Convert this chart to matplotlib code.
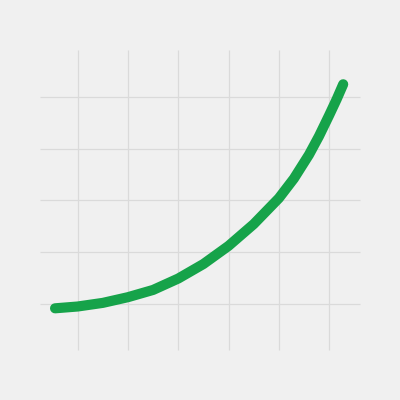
import matplotlib
matplotlib.use("Agg")
import matplotlib.pyplot as plt

# curve (grid units)
curve_x = [0.55, 1.0, 1.5, 2.0, 2.5, 3.0, 3.5, 4.0, 4.5, 5.0, 5.3, 5.6, 5.8, 6.0, 6.15, 6.28]
curve_y = [0.915, 0.95, 1.02, 1.13, 1.27, 1.49, 1.77, 2.12, 2.54, 3.04, 3.42, 3.88, 4.24, 4.64, 4.95, 5.24]

grid_x = [1, 2, 3, 4, 5, 6]
grid_y = [1, 2, 3, 4, 5]

BG = "#f0f0f0"
GRID = "#dadada"
GREEN = "#16a34a"

fig = plt.figure(figsize=(4, 4), dpi=100, facecolor=BG)
ax = fig.add_axes([0, 0, 1, 1])
ax.set_facecolor(BG)

# grid lines only span the plot area, not the whole figure
ax.hlines(grid_y, 0.25, 6.61, colors=GRID, linewidth=0.9, zorder=1)
ax.vlines(grid_x, 0.11, 5.9, colors=GRID, linewidth=0.9, zorder=1)

ax.plot(curve_x, curve_y, color=GREEN, linewidth=7.3,
        solid_capstyle="round", solid_joinstyle="round", zorder=3)

ax.set_xlim(-0.545, 7.41)
ax.set_ylim(-0.855, 6.867)
ax.axis("off")

fig.savefig("out.png", dpi=100, facecolor=BG)
